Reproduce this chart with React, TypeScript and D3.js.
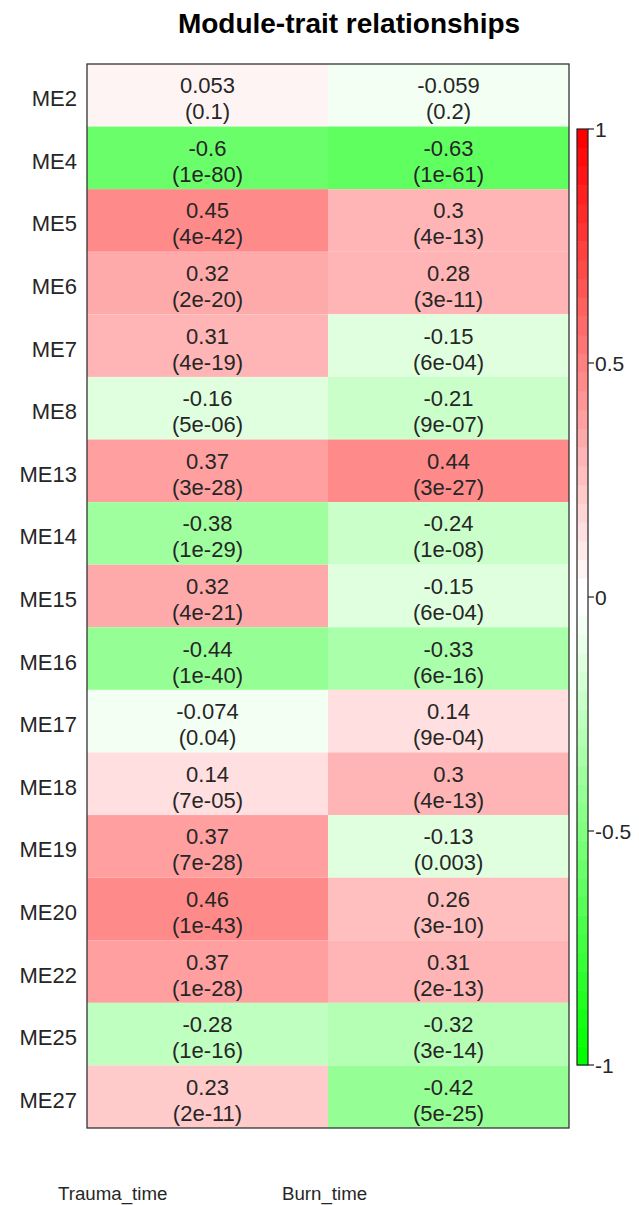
import React from "react";
import * as d3 from "d3";

const modules = ["ME2","ME4","ME5","ME6","ME7","ME8","ME13","ME14","ME15","ME16","ME17","ME18","ME19","ME20","ME22","ME25","ME27"];
const traits = ["Trauma_time", "Burn_time"];
const traumaCor = [0.053,-0.6,0.45,0.32,0.31,-0.16,0.37,-0.38,0.32,-0.44,-0.074,0.14,0.37,0.46,0.37,-0.28,0.23];
const traumaP = ["0.1","1e-80","4e-42","2e-20","4e-19","5e-06","3e-28","1e-29","4e-21","1e-40","0.04","7e-05","7e-28","1e-43","1e-28","1e-16","2e-11"];
const burnCor = [-0.059,-0.63,0.3,0.28,-0.15,-0.21,0.44,-0.24,-0.15,-0.33,0.14,0.3,-0.13,0.26,0.31,-0.32,-0.42];
const burnP = ["0.2","1e-61","4e-13","3e-11","6e-04","9e-07","3e-27","1e-08","6e-04","6e-16","9e-04","4e-13","0.003","3e-10","2e-13","3e-14","5e-25"];
const legendTicks = [1, 0.5, 0, -0.5, -1];
const title = "Module-trait relationships";

// WGCNA greenWhiteRed(50)
function greenWhiteRed(n: number): string[] {
  const half = Math.floor(n / 2);
  const out: string[] = [];
  for (let i = 0; i < half; i++) {
    const t = i / (half - 1);
    out.push(d3.rgb(255 * t, 255, 255 * t).formatHex());
  }
  for (let i = 0; i < half; i++) {
    const t = 1 - i / (half - 1);
    out.push(d3.rgb(255, 255 * t, 255 * t).formatHex());
  }
  return out;
}
const palette = greenWhiteRed(50);

const FONT = "'Liberation Sans', Arial, Helvetica, sans-serif";

export default function App() {
  const W = 639, H = 1205;
  const left = 87, right = 569, top = 64, bottom = 1128;
  const x = d3.scaleBand<string>().domain(traits).range([left, right]);
  const y = d3.scaleBand<string>().domain(modules).range([top, bottom]);
  const color = d3.scaleQuantize<string>().domain([-1, 1]).range(palette);
  const cbX0 = 577, cbX1 = 588;
  const cy = d3.scaleLinear().domain([-1, 1]).range([1065, 129]);
  const cors = [traumaCor, burnCor];
  const ps = [traumaP, burnP];
  const colLabelX = [58, 282];
  const textColor = "#262626";

  const step = 2 / palette.length;

  return (
    <svg width={W} height={H} style={{ position: "absolute", left: 0, top: 0, background: "#fff" }} fontFamily={FONT}>
      <rect x={0} y={0} width={W} height={H} fill="#fff" />
      <text x={(178 + 520) / 2} y={33} textAnchor="middle" fontWeight="bold" fontSize={28} fill="#000">{title}</text>
      {traits.map((t, ci) =>
        modules.map((m, ri) => {
          const v = cors[ci][ri];
          const x0 = x(t)!;
          const y0 = y(m)!;
          const cx = x0 + x.bandwidth() / 2;
          const cyy = y0 + y.bandwidth() / 2;
          return (
            <g key={t + m}>
              <rect x={x0} y={y0} width={x.bandwidth()} height={y.bandwidth()} fill={color(v)} />
              <text x={cx} y={cyy - 2} textAnchor="middle" fontSize={22} fill={textColor}>{String(v)}</text>
              <text x={cx} y={cyy + 24} textAnchor="middle" fontSize={22} fill={textColor}>{"(" + ps[ci][ri] + ")"}</text>
            </g>
          );
        })
      )}
      <rect x={left} y={top} width={right - left} height={bottom - top} fill="none" stroke="#333" strokeWidth={1.3} />
      {modules.map((m) => (
        <text key={m} x={77} y={y(m)! + y.bandwidth() / 2 + 11} textAnchor="end" fontSize={22} fill={textColor}>{m}</text>
      ))}
      {traits.map((t, i) => (
        <text key={t} x={colLabelX[i]} y={1200} fontSize={18.7} fill={textColor}>{t}</text>
      ))}
      {palette.map((c, i) => {
        const lo = -1 + i * step;
        const hi = lo + step;
        return <rect key={i} x={cbX0} y={cy(hi)} width={cbX1 - cbX0} height={cy(lo) - cy(hi) + 0.5} fill={c} />;
      })}
      <rect x={cbX0} y={cy(1)} width={cbX1 - cbX0} height={cy(-1) - cy(1)} fill="none" stroke="#222" strokeWidth={1.2} />
      {legendTicks.map((t) => (
        <g key={t}>
          <line x1={cbX1} x2={cbX1 + 6} y1={cy(t)} y2={cy(t)} stroke="#222" strokeWidth={1.2} />
          <text x={cbX1 + 7} y={cy(t)} dy="0.36em" fontSize={21} fill={textColor}>{String(t)}</text>
        </g>
      ))}
    </svg>
  );
}
